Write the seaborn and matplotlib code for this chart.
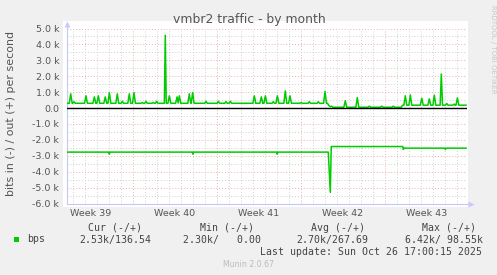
import matplotlib
matplotlib.use("Agg")
import matplotlib.pyplot as plt
from matplotlib.patches import Rectangle
from matplotlib.lines import Line2D
import seaborn as sns
import pandas as pd

# ---------------- data (days since Mon 22 Sep 2025, values in kbit/s) ----------------
out_days = [1.50,
    1.69, 1.81, 1.93, 1.98, 2.08, 2.18, 2.96, 3.08, 3.20, 3.66, 3.78, 3.90,
    3.99, 4.11, 4.23, 4.57, 4.69, 4.81, 4.91, 5.03, 5.15, 5.57, 5.69, 5.81,
    6.01, 6.11, 6.21, 6.57, 6.69, 6.81, 6.96, 7.08, 7.20, 7.68, 7.78, 7.88,
    7.98, 8.08, 8.18, 8.59, 8.69, 8.79, 8.87, 8.97, 9.07, 9.61, 9.69, 9.77,
    9.91, 10.03, 10.15, 10.55, 10.67, 10.76, 10.86, 10.98, 11.57, 11.69, 11.81,
    11.85, 11.97, 12.09, 12.98, 13.08, 13.18, 14.01, 14.11, 14.21, 14.65, 14.75,
    14.85, 15.01, 15.11, 15.21, 16.99, 17.11, 17.23, 17.57, 17.69, 17.81, 17.91,
    18.03, 18.15, 18.59, 18.69, 18.79, 18.91, 19.03, 19.15, 19.57, 19.69, 19.81,
    19.96, 20.08, 20.20, 20.90, 21.00, 21.10, 21.59, 21.69, 21.79, 22.34, 22.44,
    22.54, 22.88, 23.00, 23.12, 23.20, 23.33, 23.45, 23.55, 23.65, 24.57, 24.69,
    24.81, 25.57, 25.69, 25.81, 26.59, 26.69, 26.79, 27.62, 27.72, 27.82, 28.59,
    28.69, 28.79, 29.35, 29.47, 29.57, 29.69, 29.81, 29.99, 30.11, 30.23, 30.94,
    31.06, 31.18, 31.57, 31.69, 31.81, 31.99, 32.11, 32.23, 32.59, 32.69, 32.79,
    33.04, 33.14, 33.24, 33.65, 33.75, 33.85, 33.91, 34.03, 34.15, 34.75]
out_kbps = [0.30,
    0.30, 0.89, 0.30, 0.30, 0.40, 0.30, 0.30, 0.77, 0.30, 0.30, 0.70, 0.30,
    0.30, 0.77, 0.30, 0.30, 0.70, 0.30, 0.30, 0.97, 0.30, 0.30, 0.89, 0.30,
    0.30, 0.43, 0.30, 0.30, 0.89, 0.30, 0.30, 0.97, 0.30, 0.30, 0.35, 0.30,
    0.30, 0.43, 0.30, 0.30, 0.35, 0.30, 0.30, 0.43, 0.30, 0.30, 4.58, 0.30,
    0.30, 0.77, 0.30, 0.30, 0.70, 0.32, 0.77, 0.30, 0.30, 0.89, 0.30,
    0.30, 0.97, 0.30, 0.30, 0.43, 0.30, 0.30, 0.43, 0.30, 0.30, 0.40,
    0.30, 0.30, 0.43, 0.30, 0.30, 0.77, 0.30, 0.30, 0.70, 0.30, 0.30,
    0.77, 0.30, 0.30, 0.40, 0.30, 0.30, 0.77, 0.30, 0.30, 1.08, 0.30,
    0.30, 0.77, 0.30, 0.30, 0.35, 0.30, 0.30, 0.40, 0.30, 0.30, 0.40,
    0.30, 0.30, 1.04, 0.30, 0.30, 0.15, 0.08, 0.12, 0.05, 0.05, 0.46,
    0.05, 0.05, 0.66, 0.05, 0.05, 0.12, 0.05, 0.05, 0.12, 0.05, 0.05,
    0.12, 0.05, 0.05, 0.18, 0.18, 0.77, 0.18, 0.18, 0.83, 0.18, 0.18,
    0.62, 0.18, 0.18, 0.58, 0.18, 0.18, 0.81, 0.18, 0.18, 2.14, 0.18,
    0.18, 0.29, 0.18, 0.18, 0.25, 0.18, 0.18, 0.64, 0.18, 0.18]

in_days = [1.50, 4.98, 5.03, 5.08, 11.95, 12.00, 12.05, 18.97, 19.02, 19.07,
           23.27, 23.44, 23.52, 29.48, 29.53, 29.58, 32.98, 33.03, 33.08, 34.75]
in_kbps = [-2.77, -2.77, -2.90, -2.77, -2.77, -2.90, -2.77, -2.77, -2.90, -2.77,
           -2.77, -5.30, -2.42, -2.42, -2.60, -2.52, -2.52, -2.60, -2.52, -2.52]

week_labels = ["Week 39", "Week 40", "Week 41", "Week 42", "Week 43"]
week_label_days = [3.5, 10.5, 17.5, 24.5, 31.5]
week_start_days = [7, 14, 21, 28]
y_ticks_k = [5, 4, 3, 2, 1, 0, -1, -2, -3, -4, -5, -6]

legend_headers = ["Cur (-/+)", "Min (-/+)", "Avg (-/+)", "Max (-/+)"]
legend_values = ["2.53k/136.54", "2.30k/   0.00", "2.70k/267.69", "6.42k/ 98.55k"]
series_name = "bps"
last_update = "Last update: Sun Oct 26 17:00:15 2025"
title = "vmbr2 traffic - by month"
ylabel = "bits in (-) / out (+) per second"

# ---------------- figure ----------------
W, H = 497, 275
fig = plt.figure(figsize=(W / 100, H / 100), dpi=100, facecolor="#F0F0F0")

def fx(x):
    return x / W

def fy(y):
    return 1 - y / H

# white canvas behind the plot
fig.patches.append(Rectangle((fx(63), fy(207)), fx(468) - fx(63), fy(21) - fy(207),
                             transform=fig.transFigure, facecolor="white",
                             edgecolor="none", zorder=-10))

ax = fig.add_axes([fx(67), fy(203.5), fx(467) - fx(67), fy(28.5) - fy(203.5)])
ax.set_zorder(1)
ax.set_facecolor("white")

green = "#00CC00"
df = pd.concat([
    pd.DataFrame({"day": out_days, "kbps": out_kbps, "dir": "out"}),
    pd.DataFrame({"day": in_days, "kbps": in_kbps, "dir": "in"}),
], ignore_index=True)

# grid
minor_col = "#CFCFCF"
major_col = "#EBAFAF"
dot = (0, (1, 2))
for d in range(2, 35):
    if d in week_start_days:
        continue
    ax.axvline(d, color=minor_col, lw=0.7, ls=dot, zorder=1)
for d in week_start_days:
    ax.axvline(d, color=major_col, lw=0.7, ls=dot, zorder=1)
for v in y_ticks_k:
    ax.axhline(v, color=major_col, lw=0.7, ls=dot, zorder=1)
    if v > -6:
        ax.axhline(v - 0.5, color=minor_col, lw=0.7, ls=dot, zorder=1)

sns.lineplot(data=df, x="day", y="kbps", hue="dir", units="dir", estimator=None,
             sort=False, palette={"out": green, "in": green}, lw=1.1,
             legend=False, ax=ax, zorder=3)
ax.axhline(0, color="black", lw=1.0, zorder=4)

ax.set_xlim(1.5, 34.83)
ax.set_ylim(-6, 5)
ax.set_xticks(week_label_days)
ax.set_xticklabels(week_labels)
ax.set_yticks(y_ticks_k)
ax.set_yticklabels([("%.1f k" % v) if v != 0 else "0.0" for v in y_ticks_k])
ax.tick_params(axis="both", length=0, labelsize=6.8, colors="#555555")
ax.tick_params(axis="y", pad=5.5)
ax.tick_params(axis="x", pad=4)
ax.set_xlabel("")
ax.set_ylabel("")
for s in ["top", "right"]:
    ax.spines[s].set_visible(False)
axis_col = "#C8C8F5"
for s in ["left", "bottom"]:
    ax.spines[s].set_color(axis_col)
    ax.spines[s].set_linewidth(0.8)

# axis extensions and arrows
fig.lines.append(Line2D([fx(67), fx(67)], [fy(28.5), fy(24)], transform=fig.transFigure,
                        color=axis_col, lw=0.8))
fig.lines.append(Line2D([fx(467), fx(470)], [fy(203.5), fy(203.5)], transform=fig.transFigure,
                        color=axis_col, lw=0.8))
fig.lines.append(Line2D([fx(67)], [fy(23.5)], transform=fig.transFigure, marker="^",
                        markersize=4.5, color="#C8C8FF", mec="none"))
fig.lines.append(Line2D([fx(470.5)], [fy(203.5)], transform=fig.transFigure, marker=">",
                        markersize=4.5, color="#C8C8FF", mec="none"))

# texts
fig.text(fx(249), fy(19.5), title, ha="center", va="center", fontsize=8.9, color="#555555")
fig.text(fx(11.5), fy(114), ylabel, ha="center", va="center", rotation=90,
         fontsize=7.9, color="#555555")
fig.text(fx(492.5), fy(5), "RRDTOOL / TOBI OETIKER", ha="center", va="top", rotation=270,
         fontsize=5.0, color="#C8C8C8")

mono = "DejaVu Sans Mono"
fs = 7.15
tc = "#444444"
header_right = [142, 254, 365, 476]
value_right = [151.7, 260.7, 368.3, 482.7]
for hdr, xr in zip(legend_headers, header_right):
    fig.text(fx(xr), fy(227.7), hdr, ha="right", va="center", family=mono, fontsize=fs, color=tc)
for val, xr in zip(legend_values, value_right):
    fig.text(fx(xr), fy(239.5), val, ha="right", va="center", family=mono, fontsize=fs, color=tc)
fig.patches.append(Rectangle((fx(14), fy(242)), fx(5), fy(237) - fy(242),
                             transform=fig.transFigure, facecolor=green, edgecolor="none"))
fig.text(fx(26.7), fy(239.5), series_name, ha="left", va="center", family=mono, fontsize=fs, color=tc)
fig.text(fx(482.3), fy(251.7), last_update, ha="right", va="center", family=mono,
         fontsize=fs, color=tc)
fig.text(fx(248), fy(264.3), "Munin 2.0.67", ha="center", va="center", fontsize=5.6,
         color="#BBBBBB")

fig.savefig("out.png", dpi=100, facecolor=fig.get_facecolor())
